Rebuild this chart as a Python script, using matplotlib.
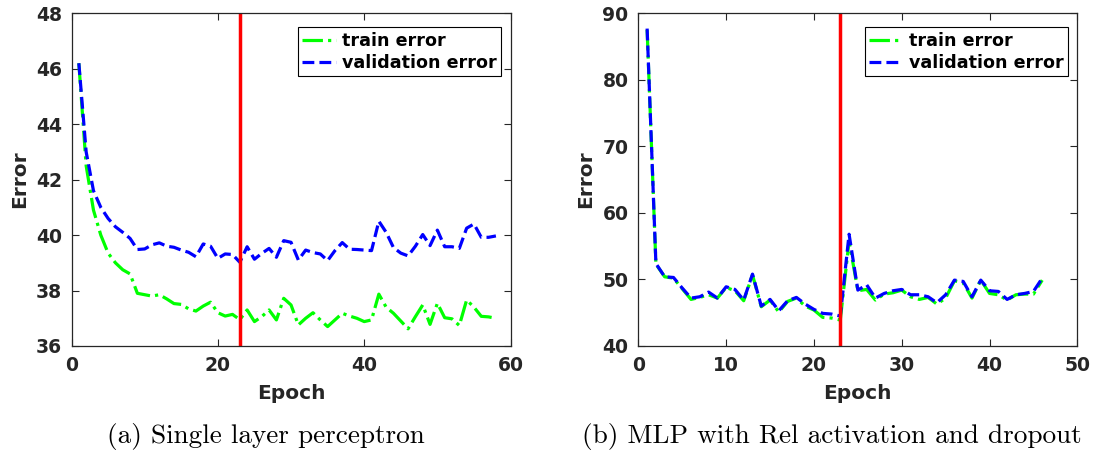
import matplotlib
matplotlib.use("Agg")
import matplotlib.pyplot as plt

# single layer perceptron (left)
slp_epochs = list(range(1, 59))
slp_train = [46.2, 42.5, 40.9, 40.0, 39.35, 39.0, 38.75, 38.6, 37.9, 37.85,
             37.8, 37.85, 37.7, 37.53, 37.5, 37.34, 37.26, 37.44, 37.58, 37.2,
             37.08, 37.14, 36.95, 37.3, 36.88, 37.06, 37.3, 36.94, 37.72, 37.48,
             36.76, 37.0, 37.2, 36.94, 36.7, 36.94, 37.18, 37.08, 37.0, 36.88,
             36.94, 37.87, 37.4, 37.18, 36.9, 36.62, 37.06, 37.48, 36.78, 37.54,
             37.02, 36.98, 36.74, 37.66, 37.4, 37.07, 37.05, 37.0]
slp_valid = [46.2, 43.0, 41.6, 41.0, 40.6, 40.3, 40.1, 39.88, 39.48, 39.5,
             39.65, 39.72, 39.6, 39.56, 39.46, 39.38, 39.22, 39.68, 39.6, 39.16,
             39.32, 39.3, 39.02, 39.58, 39.13, 39.34, 39.52, 39.2, 39.8, 39.74,
             39.1, 39.46, 39.37, 39.32, 39.08, 39.44, 39.73, 39.49, 39.48, 39.46,
             39.44, 40.5, 40.1, 39.55, 39.35, 39.25, 39.6, 40.02, 39.62, 40.18,
             39.58, 39.58, 39.52, 40.25, 40.4, 39.92, 39.92, 39.97]

# MLP with ReLU + dropout (right)
mlp_epochs = list(range(1, 47))
mlp_train = [87.5, 52.3, 50.4, 50.2, 48.6, 47.0, 47.3, 47.7, 47.2, 48.8,
             48.3, 46.8, 50.7, 45.9, 46.9, 45.1, 46.7, 47.2, 46.0, 45.4,
             44.3, 44.2, 43.9, 55.8, 48.3, 48.5, 46.9, 47.8, 48.0, 48.4,
             47.4, 47.0, 47.3, 46.3, 47.2, 49.8, 49.5, 47.2, 49.9, 47.9,
             47.7, 46.9, 47.7, 47.8, 47.8, 49.9]
mlp_valid = [87.7, 52.4, 50.4, 50.3, 48.7, 47.2, 47.4, 48.1, 47.2, 48.9,
             48.5, 46.9, 50.8, 46.0, 47.0, 45.3, 46.8, 47.3, 46.3, 45.5,
             44.9, 44.8, 44.5, 56.8, 48.4, 49.2, 47.2, 47.9, 48.3, 48.5,
             47.7, 47.7, 47.4, 46.5, 47.7, 49.9, 49.7, 47.4, 49.9, 48.3,
             48.2, 47.0, 47.7, 47.9, 48.2, 50.2]

stop_epoch = 23
captions = ["(a) Single layer perceptron", "(b) MLP with Rel activation and dropout"]

txt = '#262626'
plt.rcParams['font.family'] = 'DejaVu Sans'
plt.rcParams['font.weight'] = 'bold'

fig = plt.figure(figsize=(10.97, 4.57), dpi=100)
ax1 = fig.add_axes([0.0652, 0.2429, 0.4002, 0.728])
ax2 = fig.add_axes([0.5819, 0.2429, 0.4002, 0.728])


def draw(ax, ep, tr, va, xlim, ylim, xt, yt):
    ax.plot(ep, tr, color=(0, 1, 0), ls='-.', lw=2.3, label='train error')
    ax.plot(ep, va, color=(0, 0, 1), ls='--', lw=2.3, label='validation error')
    ax.axvline(stop_epoch, color='red', lw=2.5)
    ax.set_xlim(*xlim)
    ax.set_ylim(*ylim)
    ax.set_xticks(xt)
    ax.set_yticks(yt)
    ax.tick_params(direction='in', top=True, right=True, length=5, width=0.8,
                   labelsize=13.5, colors=txt, pad=7)
    for lab in ax.get_xticklabels() + ax.get_yticklabels():
        lab.set_fontweight('bold')
    for s in ax.spines.values():
        s.set_color(txt)
        s.set_linewidth(0.9)
    ax.set_xlabel('Epoch', fontsize=14.5, fontweight='bold', color=txt, labelpad=7)
    ax.set_ylabel('Error', fontsize=14.5, fontweight='bold', color=txt, labelpad=5)
    leg = ax.legend(loc='upper right', bbox_to_anchor=(0.978, 0.958), fancybox=False,
                    framealpha=1, edgecolor='black', handlelength=1.9,
                    borderpad=0.25, labelspacing=0.25, handletextpad=0.35,
                    borderaxespad=0, prop={'weight': 'bold', 'size': 12.6})
    leg.get_frame().set_linewidth(0.8)


draw(ax1, slp_epochs, slp_train, slp_valid, (0, 60), (36, 48),
     [0, 20, 40, 60], [36, 38, 40, 42, 44, 46, 48])
draw(ax2, mlp_epochs, mlp_train, mlp_valid, (0, 50), (40, 90),
     [0, 10, 20, 30, 40, 50], [40, 50, 60, 70, 80, 90])

fig.text(107 / 1097, 1 - 437 / 457, captions[0], family='cmr10', fontsize=19.6,
         fontweight='normal', va='center', ha='left')
fig.text(582 / 1097, 1 - 437 / 457, captions[1], family='cmr10', fontsize=19.6,
         fontweight='normal', va='center', ha='left')

fig.savefig('out.png', dpi=100)
